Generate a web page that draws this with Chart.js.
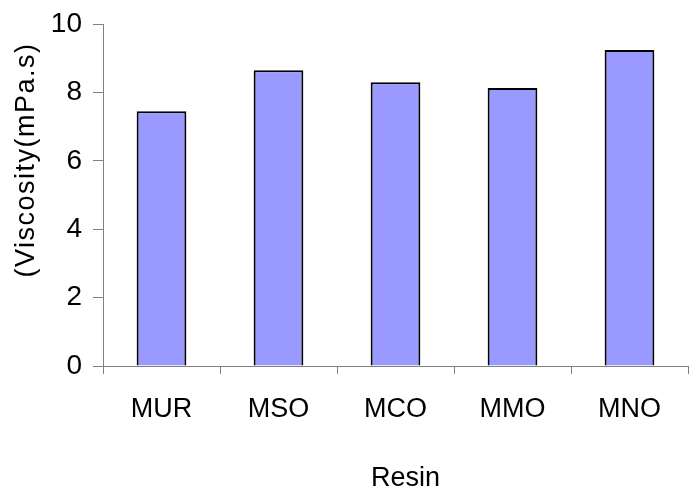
<!DOCTYPE html>
<html>
<head>
<meta charset="utf-8">
<script src="https://cdn.jsdelivr.net/npm/chart.js@4"></script>
<style>
  html, body { margin: 0; padding: 0; background: #fff; }
  #wrap { width: 691px; height: 492px; }
</style>
</head>
<body>
<div id="wrap"><canvas id="chart" width="691" height="492"></canvas></div>
<script>
var resins = ['MUR', 'MSO', 'MCO', 'MMO', 'MNO'];
var viscosity = [7.45, 8.65, 8.3, 8.13, 9.24];
var yTicks = [0, 2, 4, 6, 8, 10];

var FONT = '"Liberation Sans", Arial, sans-serif';
var axisGrey = '#808080';

// nudge the axis titles where the original has them, y title letter-spaced
var titleTweak = {
    id: 'titleTweak',
    beforeDraw: function(chart) {
        var shifts = { x: { dx: 10, dy: 3, ls: '0px' }, y: { dx: 0, dy: -35, ls: '1.5px' } };
        Object.keys(shifts).forEach(function(id) {
            var s = chart.scales[id];
            if (s._tweaked) return;
            var orig = s.drawTitle;
            var sh = shifts[id];
            s.drawTitle = function() {
                var ctx = this.ctx;
                ctx.save();
                ctx.translate(sh.dx, sh.dy);
                ctx.letterSpacing = sh.ls;
                orig.apply(this, arguments);
                ctx.restore();
            };
            s._tweaked = true;
        });
    }
};

new Chart(document.getElementById('chart'), {
    type: 'bar',
    data: {
        labels: resins,
        datasets: [{
            data: viscosity,
            backgroundColor: '#9999FF',
            borderColor: '#000',
            borderWidth: 2,
            categoryPercentage: 1,
            barPercentage: 0.425
        }]
    },
    options: {
        responsive: false,
        animation: false,
        layout: { padding: { top: 24, right: 3, left: 0, bottom: 0 } },
        plugins: { legend: { display: false }, tooltip: { enabled: false } },
        scales: {
            x: {
                grid: { offset: true, drawOnChartArea: false, color: axisGrey, tickLength: 8, lineWidth: 1 },
                border: { color: axisGrey, width: 1 },
                ticks: { color: '#000', font: { family: FONT, size: 27 }, padding: 19, maxRotation: 0 },
                title: { display: true, text: 'Resin', color: '#000', font: { family: FONT, size: 27 }, padding: { top: 0, bottom: 0 } },
                afterFit: function(s) { s.height = 126; s.paddingLeft = 0; s.paddingRight = 0; }
            },
            y: {
                min: 0,
                max: 10,
                afterBuildTicks: function(s) { s.ticks = yTicks.map(function(v) { return { value: v }; }); },
                grid: { drawOnChartArea: false, color: axisGrey, tickLength: 10, lineWidth: 1 },
                border: { color: axisGrey, width: 1 },
                ticks: { color: '#000', font: { family: FONT, size: 28 }, padding: 11 },
                title: { display: true, text: '(Viscosity(mPa.s)', color: '#000', font: { family: FONT, size: 27 }, padding: { top: 10, bottom: 0 } },
                afterFit: function(s) { s.width = 103; s.paddingTop = 0; s.paddingBottom = 0; }
            }
        }
    },
    plugins: [titleTweak]
});
</script>
</body>
</html>
